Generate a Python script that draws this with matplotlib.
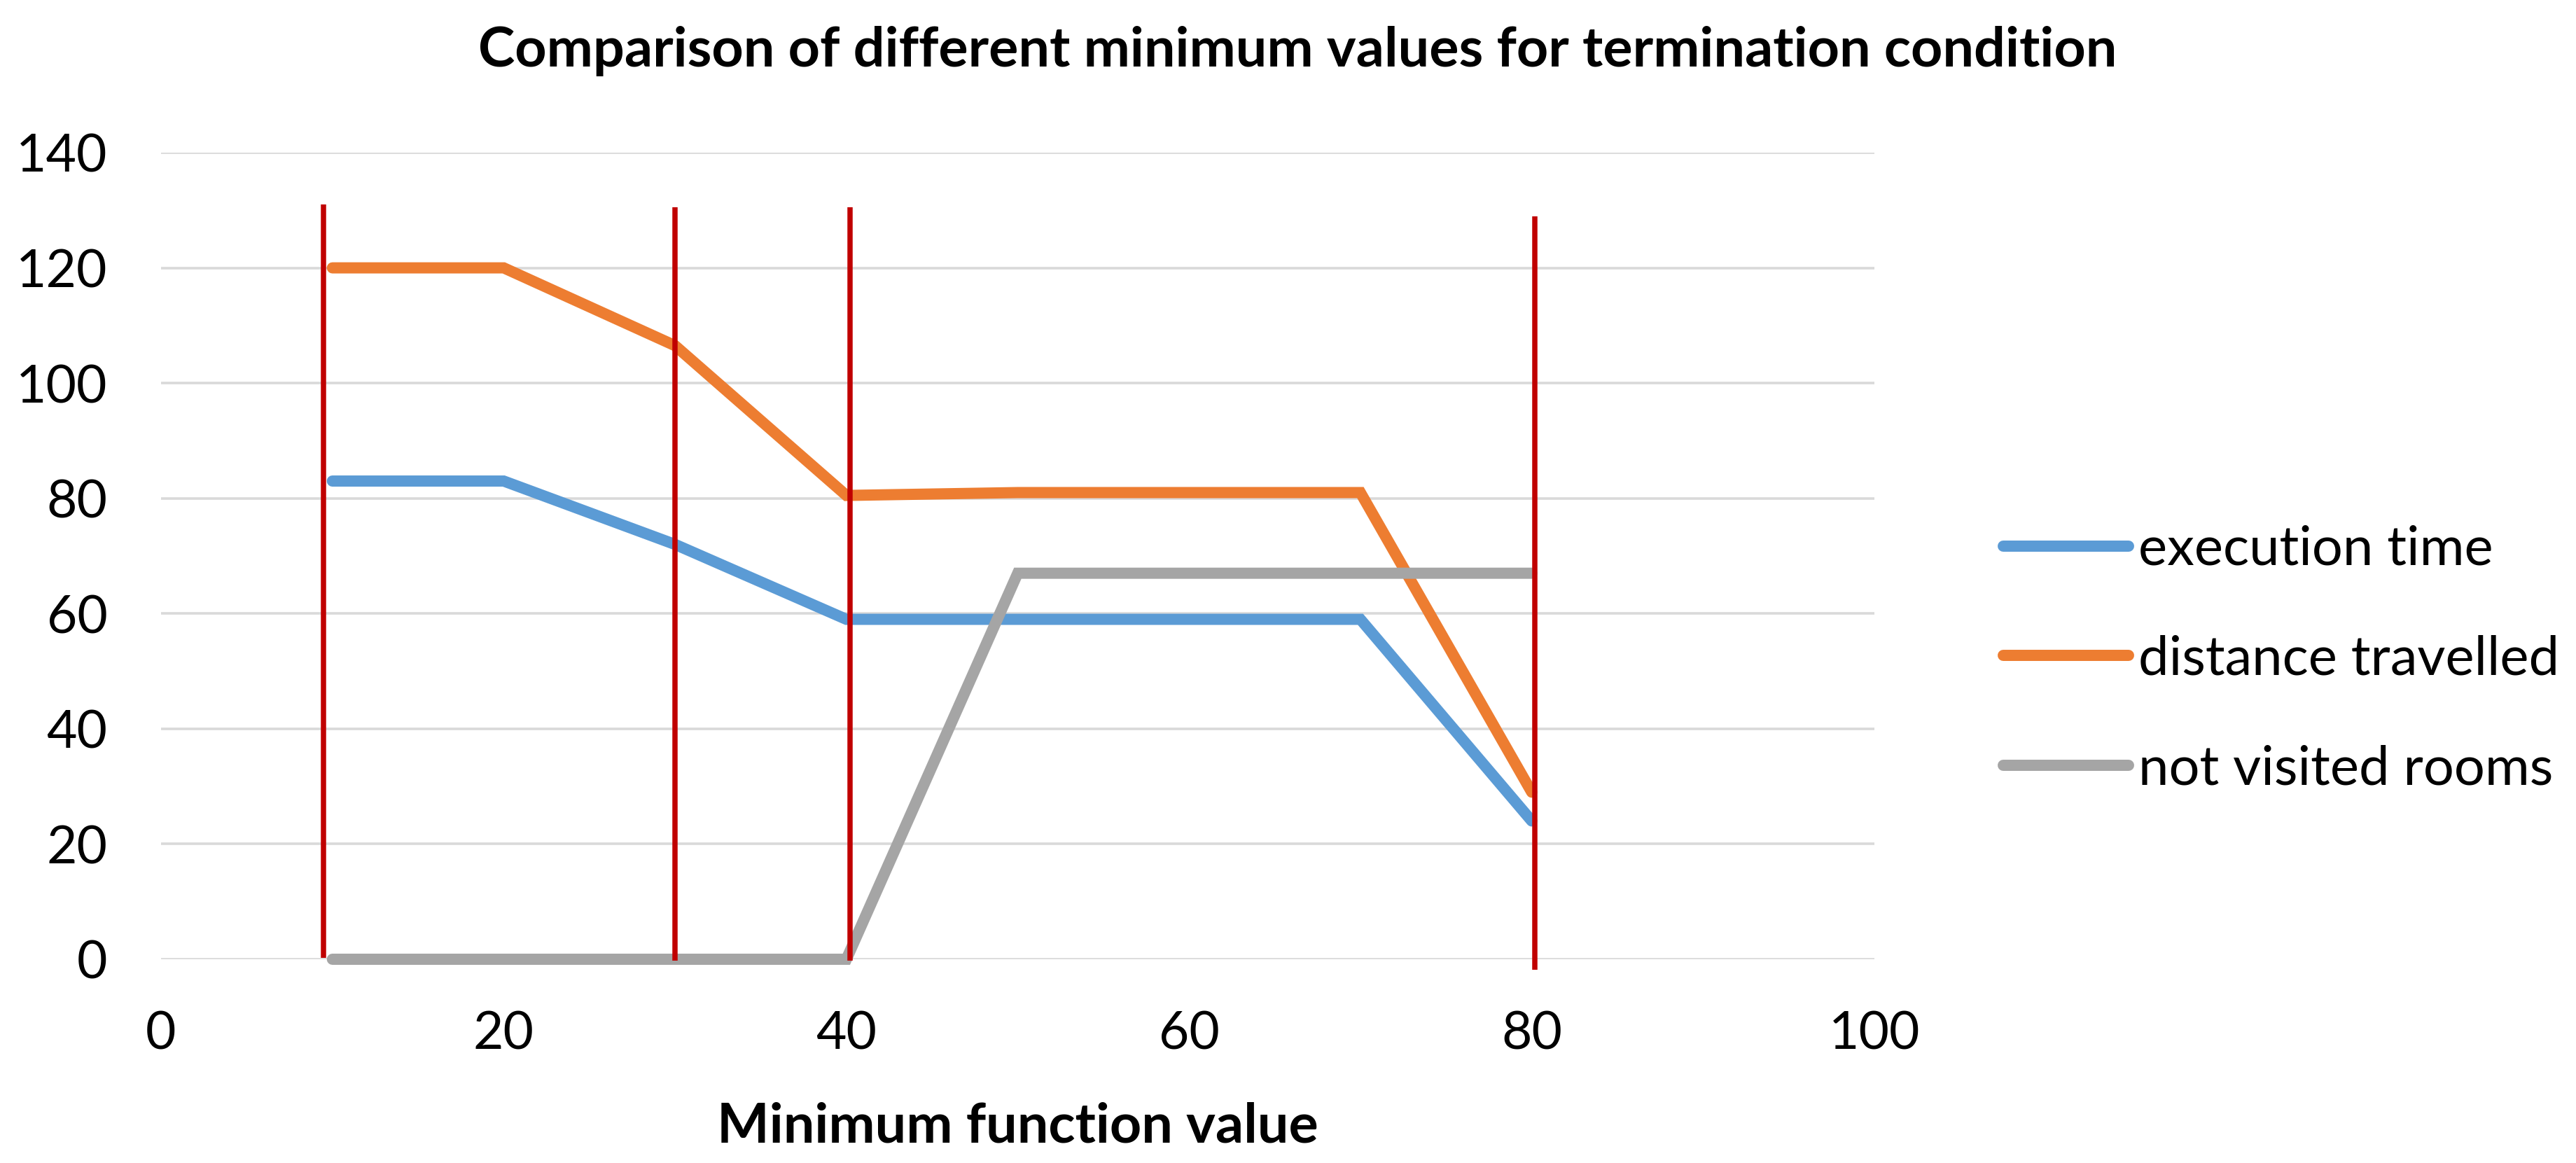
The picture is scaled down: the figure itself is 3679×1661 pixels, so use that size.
import matplotlib
matplotlib.use("Agg")
import matplotlib.pyplot as plt

plt.rcParams['font.family'] = ['Lato', 'DejaVu Sans']

# values
min_value = [10, 20, 30, 40, 50, 60, 70, 80]
execution_time = [83, 83, 72, 59, 59, 59, 59, 24]
distance_travelled = [120, 120, 106.5, 80.5, 81, 81, 81, 29]
not_visited_rooms = [0, 0, 0, 0, 67, 67, 67, 67]

series_names = ["execution time", "distance travelled", "not visited rooms"]
series_colors = ["#5B9BD5", "#ED7D31", "#A5A5A5"]

# hand-drawn red marker lines
marker_x = [9.5, 30, 40.2, 80.2]
marker_top = [131, 130.5, 130.5, 129]
marker_bottom = [0.3, -0.3, -0.3, -1.8]

x_ticks = [0, 20, 40, 60, 80, 100]
y_ticks = [0, 20, 40, 60, 80, 100, 120, 140]

title = "Comparison of different minimum values for termination condition"
x_label = "Minimum function value"

W, H = 3679, 1661
fig = plt.figure(figsize=(W / 100, H / 100), dpi=100)
ax = fig.add_axes([230 / W, 1 - 1370 / H, (2677 - 230) / W, (1370 - 218) / H])

for vals, name, col in zip([execution_time, distance_travelled, not_visited_rooms],
                           series_names, series_colors):
    ax.plot(min_value, vals, color=col, lw=11.5, label=name,
            solid_capstyle='round', solid_joinstyle='miter', clip_on=False, zorder=3)

ax.vlines(marker_x, marker_bottom, marker_top, colors="#C00000", lw=5.4,
          clip_on=False, zorder=4)

ax.set_xlim(0, 100)
ax.set_ylim(0, 140)
ax.set_xticks(x_ticks)
ax.set_yticks(y_ticks)
ax.grid(axis='y', color='#d9d9d9', lw=2.6)
ax.set_axisbelow(True)
for s in ax.spines.values():
    s.set_visible(False)
ax.tick_params(axis='both', length=0, labelsize=54, colors='#000000')
ax.tick_params(axis='y', pad=55)
ax.tick_params(axis='x', pad=52)

ax.set_xlabel(x_label, fontsize=57, fontweight='bold', va='baseline')
ax.xaxis.set_label_coords(0.5, (1370 - 1632) / 1152)

fig.text(1853 / W, 1 - 95 / H, title, fontsize=57, fontweight='bold',
         ha='center', va='baseline')

ax.legend(loc='center left', bbox_to_anchor=(2861 / W, 1 - 942 / H),
          bbox_transform=fig.transFigure, frameon=False, fontsize=56,
          handlelength=2.3, handletextpad=0.18, labelspacing=1.1,
          borderpad=0, borderaxespad=0)

fig.savefig("out.png", dpi=100, facecolor='white')
